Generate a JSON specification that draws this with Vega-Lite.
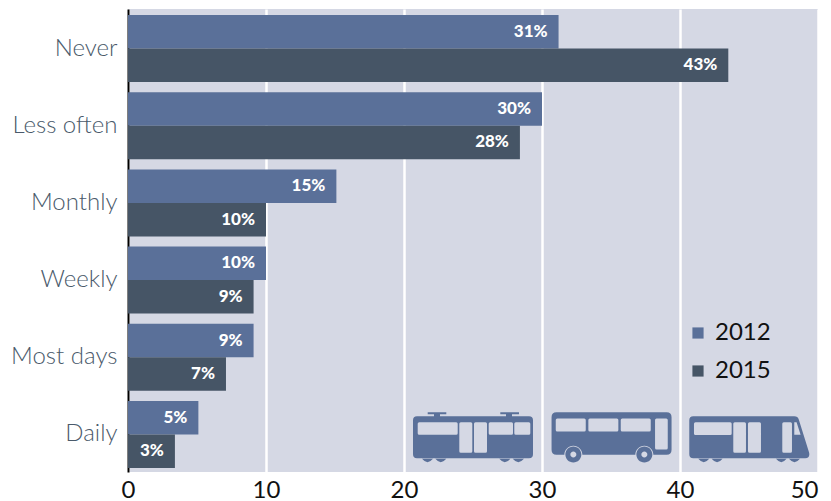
{
"$schema":"https://vega.github.io/schema/vega-lite/v6.json",
"width":690,"height":463,
"autosize":{"type":"none"},
"padding":{"left":128,"top":9,"right":13,"bottom":29},
"background":"white",
"view":{"fill":"#d5d8e4","stroke":null},
"config":{"font":"Lato"},
"datasets":{
"bars":[
{"freq":"Never","year":"2012","value":31.2,"label":"31%"},
{"freq":"Never","year":"2015","value":43.5,"label":"43%"},
{"freq":"Less often","year":"2012","value":30.0,"label":"30%"},
{"freq":"Less often","year":"2015","value":28.4,"label":"28%"},
{"freq":"Monthly","year":"2012","value":15.1,"label":"15%"},
{"freq":"Monthly","year":"2015","value":10.0,"label":"10%"},
{"freq":"Weekly","year":"2012","value":10.0,"label":"10%"},
{"freq":"Weekly","year":"2015","value":9.1,"label":"9%"},
{"freq":"Most days","year":"2012","value":9.1,"label":"9%"},
{"freq":"Most days","year":"2015","value":7.1,"label":"7%"},
{"freq":"Daily","year":"2012","value":5.1,"label":"5%"},
{"freq":"Daily","year":"2015","value":3.4,"label":"3%"}
]},
"encoding":{
"y":{"field":"freq","type":"nominal","title":null,
"scale":{"domain":["Never","Less often","Monthly","Weekly","Most days","Daily"],"paddingInner":0.132,"paddingOuter":0.065,"align":0.6},
"axis":{"domainColor":"#000000","domainWidth":2,"ticks":false,"labelFontSize":24,"labelColor":"#4a5a6b","labelPadding":11,"labelFontWeight":300,"grid":false}},
"x":{"field":"value","type":"quantitative","title":null,
"scale":{"domain":[0,50],"nice":false},
"axis":{"values":[0,10,20,30,40,50],"domain":false,"ticks":false,"grid":true,"gridColor":"#ffffff","gridWidth":2.5,"gridOpacity":1,"labelFontSize":24,"labelColor":"#111111","labelPadding":6,"labelFontWeight":400,"labelAlign":{"expr":"datum.value==50?'right':'center'"},"labelBound":false,"labelFlush":false}}
},
"layer":[
{"data":{"name":"bars"},"mark":{"type":"bar"},
"encoding":{
"yOffset":{"field":"year","type":"nominal","scale":{"paddingInner":0,"paddingOuter":0}},
"color":{"field":"year","type":"nominal","scale":{"domain":["2012","2015"],"range":["#5a7099","#465566"]},
"legend":{"orient":"none","legendX":558,"legendY":312,"title":null,"symbolType":"square","symbolSize":125,"labelFontSize":24,"labelColor":"#111111","labelFontWeight":400,"rowPadding":14,"labelOffset":5}}}},
{"data":{"name":"bars"},"mark":{"type":"text","align":"right","dx":-11,"dy":0,"color":"#ffffff","fontSize":17,"fontWeight":900},
"encoding":{
"yOffset":{"field":"year","type":"nominal","scale":{"paddingInner":0,"paddingOuter":0}},
"text":{"field":"label"}}},
{"data":{"values":[{"freq":"Daily","value":25.0,"vehicle":"tram"}]},
"mark":{"type":"point","filled":true,"opacity":1,"color":"#5a7099","size":4,
"shape":"M-56 -18.3H56Q60 -18.3 60 -14.3V19.7Q60 23.7 56 23.7H-56Q-60 23.7 -60 19.7V-14.3Q-60 -18.3 -56 -18.3ZM-45.3 -22.3H-26.7V-20.3H-33V-18.3H-39V-20.3H-45.3ZM27.3 -22.3H46V-20.3H39V-18.3H33V-20.3H27.3ZM-51 24.3Q-45.5 31 -40 24.3ZM-37.7 24.3Q-32.2 31 -26.7 24.3ZM26.3 24.3Q31.8 31 37.3 24.3ZM39.7 24.3Q45.3 31 51 24.3ZM-53.8 -12.3q-1.5 0 -1.5 1.5v9.6q0 1.5 1.5 1.5h37q1.5 0 1.5 -1.5v-9.6q0 -1.5 -1.5 -1.5zM-12.2 -12.3q-1.5 0 -1.5 1.5v27.6q0 1.5 1.5 1.5h10q1.5 0 1.5 -1.5v-27.6q0 -1.5 -1.5 -1.5zM2.5 -12.3q-1.5 0 -1.5 1.5v27.6q0 1.5 1.5 1.5h10q1.5 0 1.5 -1.5v-27.6q0 -1.5 -1.5 -1.5zM17.2 -12.3q-1.5 0 -1.5 1.5v9.6q0 1.5 1.5 1.5h21.3q1.5 0 1.5 -1.5v-9.6q0 -1.5 -1.5 -1.5zM42.8 -12.3q-1.5 0 -1.5 1.5v9.6q0 1.5 1.5 1.5h13q1.5 0 1.5 -1.5v-9.6q0 -1.5 -1.5 -1.5z"}},
{"data":{"values":[{"freq":"Daily","value":35.04,"vehicle":"bus"}]},
"mark":{"type":"point","filled":true,"opacity":1,"color":"#5a7099","size":4,
"shape":"M-55 -22.3H55Q60 -22.3 60 -17.3V15.3Q60 20.3 55 20.3H41.8A9 9 0 0 0 23.8 20.3H-29.2A9 9 0 0 0 -47.2 20.3H-55Q-60 20.3 -60 15.3V-17.3Q-60 -22.3 -55 -22.3ZM-46.2 20A8 8 0 1 1 -30.2 20A8 8 0 1 1 -46.2 20ZM-41.2 20A3 3 0 1 0 -35.2 20A3 3 0 1 0 -41.2 20ZM24.8 20A8 8 0 1 1 40.8 20A8 8 0 1 1 24.8 20ZM29.8 20A3 3 0 1 0 35.8 20A3 3 0 1 0 29.8 20ZM-54.3 -16q-1.5 0 -1.5 1.5v10q0 1.5 1.5 1.5h27q1.5 0 1.5 -1.5v-10q0 -1.5 -1.5 -1.5zM-21.7 -16q-1.5 0 -1.5 1.5v10q0 1.5 1.5 1.5h27q1.5 0 1.5 -1.5v-10q0 -1.5 -1.5 -1.5zM10.7 -16q-1.5 0 -1.5 1.5v10q0 1.5 1.5 1.5h27q1.5 0 1.5 -1.5v-10q0 -1.5 -1.5 -1.5zM45 -16q-1.5 0 -1.5 1.5v28q0 1.5 1.5 1.5h9.7q1.5 0 1.5 -1.5v-28q0 -1.5 -1.5 -1.5z"}},
{"data":{"values":[{"freq":"Daily","value":45.02,"vehicle":"train"}]},
"mark":{"type":"point","filled":true,"opacity":1,"color":"#5a7099","size":4,
"shape":"M-56 -18.3H45Q48.5 -18.3 49.5 -15L59.8 18Q61 23.7 56 23.7H-56Q-60 23.7 -60 19.7V-14.3Q-60 -18.3 -56 -18.3ZM-51 24.3Q-45.5 31 -40 24.3ZM-37.7 24.3Q-32.2 31 -26.7 24.3ZM26.7 24.3Q32 31 37.3 24.3ZM39.7 24.3Q45.2 31 50.7 24.3ZM-53.8 -12.3q-1.5 0 -1.5 1.5v9.7q0 1.5 1.5 1.5h34.7q1.5 0 1.5 -1.5v-9.7q0 -1.5 -1.5 -1.5zM-14.5 -12.3q-1.5 0 -1.5 1.5v27.6q0 1.5 1.5 1.5h9.7q1.5 0 1.5 -1.5v-27.6q0 -1.5 -1.5 -1.5zM0.2 -12.3q-1.5 0 -1.5 1.5v27.6q0 1.5 1.5 1.5h10q1.5 0 1.5 -1.5v-27.6q0 -1.5 -1.5 -1.5zM34.5 -12.3q-1.5 0 -1.5 1.5v27.6q0 1.5 1.5 1.5h6.7q1.5 0 1.5 -1.5v-27.6q0 -1.5 -1.5 -1.5zM45 -12.3V0.3H51.3L47.3 -12.3Z"}}
]
}
